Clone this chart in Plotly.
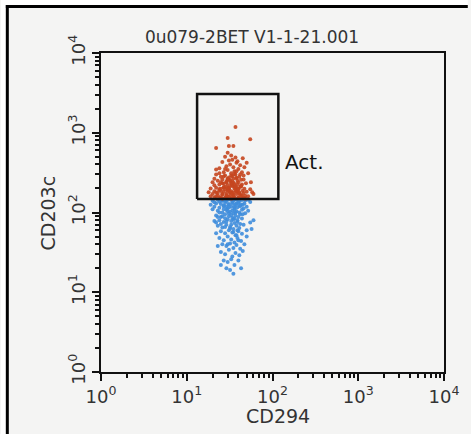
import plotly.graph_objects as go

# ---- data ----
title_text = "0u079-2BET V1-1-21.001"
x_label = "CD294"
y_label = "CD203c"
gate_label = "Act."
tick_values = [1, 10, 100, 1000, 10000]
tick_labels = ["10<sup>0</sup>", "10<sup>1</sup>", "10<sup>2</sup>", "10<sup>3</sup>", "10<sup>4</sup>"]

# gate rectangle corners (CD294 range, CD203c range)
gate_x = [13.2, 117]
gate_y = [148, 3060]

red_x = [22,25,28,30,33,36,40,44,48,20,23,26,29,32,35,38,42,46,52,21,24,27,30,33,37,41,45,50,19,22,25,28,31,34,38,42,47,55,21,24,27,30,33,36,40,44,49,23,26,29,32,35,39,43,20,25,28,31,34,37,41,46,22,27,30,33,36,40,44,24,29,32,35,38,42,26,31,34,39,22,47,50,45,28,33,37,30,22,31,35,30,55,37,52,58,60,56,19,18,26,29,31,35,40,43,27,32,36,39,25,30,34,38,42,46,21,24,28,40,48,
         23,26,29,32,35,38,41,24,27,30,33,36,39,43,22,25,28,31,34,37,40,26,29,32,35,38,27,30,33,36,24,28,31,34,21,44,47,38,30,33]
red_y = [160,155,152,158,150,155,152,157,162,170,175,168,172,165,178,170,168,175,160,185,190,182,188,185,192,180,188,182,200,205,198,210,202,215,205,210,198,195,220,225,230,222,235,228,240,225,232,250,260,245,255,265,250,258,240,280,290,275,285,300,280,290,300,320,340,310,330,350,320,360,380,400,370,420,390,430,450,460,440,345,370,420,480,500,520,490,560,645,680,680,860,830,1180,310,180,170,240,160,180,150,165,195,160,198,215,205,178,210,185,240,265,245,270,300,260,265,310,350,155,150,
         163,171,158,180,166,184,173,197,208,192,218,200,226,212,178,186,194,206,172,214,196,232,238,248,236,270,282,262,292,305,154,152,156,151,154,162,152,330,202,228]

blue_x = [20,23,26,29,32,35,38,41,44,48,52,22,25,28,31,34,37,40,43,47,21,24,27,30,33,36,39,42,46,50,23,26,29,32,35,38,41,45,22,25,28,31,34,37,40,44,24,27,30,33,36,39,42,21,23,26,29,32,35,38,41,46,25,28,31,34,37,40,44,22,24,27,30,33,36,39,43,26,29,32,35,38,42,23,25,28,31,34,37,41,45,27,30,33,36,40,29,35,32,25,43,47,50,55,60,57,20,19,48,52,55,30,34,27,31,36,24,33,39,28,42,45,26,37,22,30,40,50,35,29,38,
          24,27,30,33,36,39,25,28,31,34,37,26,29,32,35,38,23,41,44,21,34,31,28,36]
blue_y = [140,145,142,138,146,140,144,139,143,141,145,130,128,132,125,130,127,133,126,130,118,115,120,112,118,110,116,120,112,118,105,100,108,102,98,104,100,95,92,88,95,90,86,92,88,84,80,76,82,78,74,80,72,78,68,65,70,66,62,68,64,70,58,55,60,56,52,58,54,55,48,45,50,46,42,48,44,40,38,41,36,39,35,38,32,30,34,28,31,29,33,25,24,26,22,25,20,17,19,22,20,40,60,75,80,62,110,125,98,105,135,146,135,110,97,120,100,70,60,85,95,125,140,148,75,40,45,50,82,118,130,
          136,122,104,93,84,76,72,66,116,106,100,90,77,63,57,52,88,123,108,134,143,128,141,114]

# ---- layout geometry (pixels) ----
W, H = 471, 434
ML, MR, MT, MB = 101, 24, 53, 62
pw, ph = W - ML - MR, H - MT - MB

def px2paper_x(px):
    return (px - ML) / pw

def px2paper_y(py):
    return (H - MB - py) / ph

FONT = "DejaVu Sans"
TXT = "#333333"

fig = go.Figure()

fig.add_trace(go.Scatter(
    x=blue_x, y=blue_y, mode="markers",
    marker=dict(color="#3f8ddb", size=4, opacity=0.9, line=dict(width=0)),
    hoverinfo="skip", showlegend=False))
fig.add_trace(go.Scatter(
    x=red_x, y=red_y, mode="markers",
    marker=dict(color="#c5461f", size=4, opacity=0.9, line=dict(width=0)),
    hoverinfo="skip", showlegend=False))

# gate
fig.add_trace(go.Scatter(
    x=[gate_x[0], gate_x[1], gate_x[1], gate_x[0], gate_x[0]],
    y=[gate_y[0], gate_y[0], gate_y[1], gate_y[1], gate_y[0]],
    mode="lines", line=dict(color="#111111", width=2.5),
    hoverinfo="skip", showlegend=False))

axis_common = dict(
    type="log", range=[0, 4], showgrid=False, zeroline=False,
    showline=True, linecolor="#111111", linewidth=2, mirror=True,
    ticks="outside", ticklen=7, tickwidth=2, tickcolor="#111111",
    tickmode="array", tickvals=tick_values, ticktext=tick_labels,
    tickfont=dict(family=FONT, size=18, color=TXT),
    minor=dict(ticks="outside", ticklen=4, tickwidth=1.5, tickcolor="#111111", dtick="D1", showgrid=False),
)

fig.update_xaxes(**axis_common)
fig.update_yaxes(**axis_common)
fig.update_yaxes(tickangle=-90)

bg = "#f4f4f3"
fig.update_layout(
    width=W, height=H,
    margin=dict(l=ML, r=MR, t=MT, b=MB),
    paper_bgcolor=bg, plot_bgcolor=bg,
    title=dict(text=title_text, x=252 / W, xanchor="center", xref="container",
               y=1 - 37 / H, yanchor="middle", yref="container",
               font=dict(family=FONT, size=17, color=TXT)),
    annotations=[
        dict(text=x_label, xref="paper", yref="paper", x=px2paper_x(280), y=px2paper_y(416),
             showarrow=False, xanchor="center", yanchor="middle",
             font=dict(family=FONT, size=19, color=TXT)),
        dict(text=y_label, xref="paper", yref="paper", x=px2paper_x(48), y=px2paper_y(213),
             showarrow=False, xanchor="center", yanchor="middle", textangle=-90,
             font=dict(family=FONT, size=19, color=TXT)),
        dict(text=gate_label, xref="paper", yref="paper", x=px2paper_x(285), y=px2paper_y(162),
             showarrow=False, xanchor="left", yanchor="middle",
             font=dict(family=FONT, size=20, color="#111111")),
    ],
    shapes=[
        dict(type="rect", xref="paper", yref="paper", x0=px2paper_x(0), x1=px2paper_x(W),
             y0=px2paper_y(5), y1=px2paper_y(0), fillcolor="white", line=dict(width=0), layer="below"),
        dict(type="rect", xref="paper", yref="paper", x0=px2paper_x(0), x1=px2paper_x(5),
             y0=px2paper_y(H), y1=px2paper_y(0), fillcolor="white", line=dict(width=0), layer="below"),
        dict(type="line", xref="paper", yref="paper", x0=px2paper_x(5), x1=px2paper_x(W),
             y0=px2paper_y(6.5), y1=px2paper_y(6.5), line=dict(color="black", width=3)),
        dict(type="line", xref="paper", yref="paper", x0=px2paper_x(6.5), x1=px2paper_x(6.5),
             y0=px2paper_y(H), y1=px2paper_y(5), line=dict(color="black", width=3)),
    ],
)

fig.write_html("out.html")
